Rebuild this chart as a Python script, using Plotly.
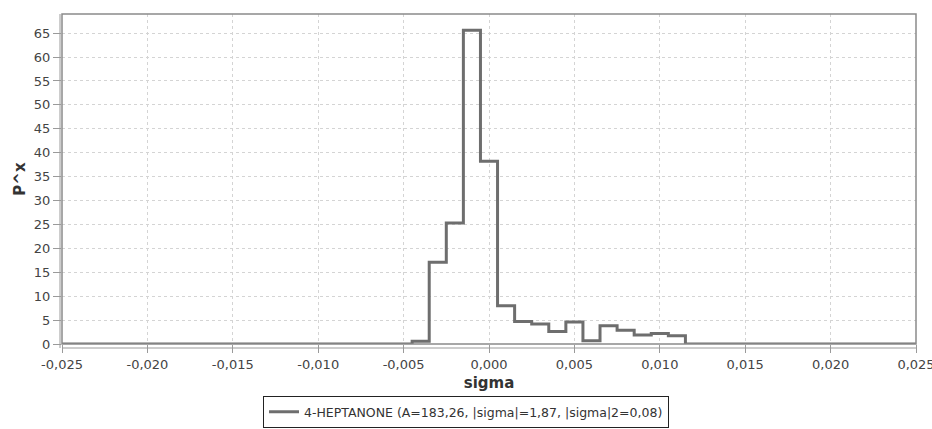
import plotly.graph_objects as go

# Histogram bin left edges (sigma) and heights (P^x), last edge closes the outline
sigma_edges = [-0.025, -0.0045, -0.0035, -0.0025, -0.0015, -0.0005, 0.0005, 0.0015,
               0.0025, 0.0035, 0.0045, 0.0055, 0.0065, 0.0075, 0.0085, 0.0095,
               0.0105, 0.0115, 0.025]
p_values = [0.0, 0.6, 17.1, 25.3, 65.6, 38.2, 8.0, 4.7,
            4.2, 2.6, 4.6, 0.7, 3.8, 2.9, 1.9, 2.2,
            1.7, 0.0, 0.0]

x_ticks = [-0.025, -0.020, -0.015, -0.010, -0.005, 0.000, 0.005, 0.010, 0.015, 0.020, 0.025]
x_tick_labels = ["-0,025", "-0,020", "-0,015", "-0,010", "-0,005", "0,000",
                 "0,005", "0,010", "0,015", "0,020", "0,025"]
y_ticks = [0, 5, 10, 15, 20, 25, 30, 35, 40, 45, 50, 55, 60, 65]

series_name = "4-HEPTANONE (A=183,26, |sigma|=1,87, |sigma|2=0,08)"

FONT = "DejaVu Sans"
GRID = "#d4d4d4"

fig = go.Figure()
fig.add_trace(go.Scatter(
    x=sigma_edges, y=p_values, mode="lines", line_shape="hv",
    line=dict(color="#6e6e6e", width=3), name=series_name, showlegend=True,
))

fig.update_layout(
    width=932, height=429,
    margin=dict(l=62, r=16, t=14, b=85, autoexpand=False),
    paper_bgcolor="white", plot_bgcolor="white",
    separators=",.",
    font=dict(family=FONT, size=13, color="#444444"),
    showlegend=True,
    legend=dict(
        orientation="h", xref="container", yref="container",
        x=0.5, xanchor="center", y=0.002, yanchor="bottom",
        bordercolor="#222222", borderwidth=1, bgcolor="white",
        font=dict(family=FONT, size=12.5, color="#333333"),
        itemwidth=30, tracegroupgap=0,
    ),
    xaxis=dict(
        range=[-0.025, 0.025], tickmode="array", tickvals=x_ticks, ticktext=x_tick_labels,
        ticklabeloverflow="allow",
        showgrid=True, gridcolor=GRID, griddash="3px,3px", gridwidth=1,
        zeroline=False, showline=False, automargin=False,
        ticks="outside", ticklen=8, tickcolor="#9a9a9a",
        tickfont=dict(family=FONT, size=13, color="#444444"),
        title=dict(text="<b>sigma</b>", font=dict(family=FONT, size=15, color="#333333"), standoff=6),
    ),
    yaxis=dict(
        range=[0, 69], tickmode="array", tickvals=y_ticks,
        showgrid=True, gridcolor=GRID, griddash="3px,3px", gridwidth=1,
        zeroline=False, showline=False, automargin=False,
        ticks="outside", ticklen=8, tickcolor="#9a9a9a",
        tickfont=dict(family=FONT, size=13, color="#444444"),
        title=dict(text="<b>P^x</b>", font=dict(family=FONT, size=15, color="#333333"), standoff=4),
    ),
    shapes=[
        # plot frame
        dict(type="rect", xref="paper", yref="paper", x0=0, x1=1, y0=0, y1=1,
             line=dict(color="#8a8a8a", width=1.5), layer="above"),
        # offset x axis line
        dict(type="line", xref="paper", yref="paper", x0=0, x1=1, y0=-4/330, y1=-4/330,
             line=dict(color="#9a9a9a", width=1)),
        # offset y axis line
        dict(type="line", xref="paper", yref="paper", x0=-2/854, x1=-2/854, y0=-4/330, y1=1,
             line=dict(color="#9a9a9a", width=1)),
    ],
)

fig.write_html("out.html", config={"displayModeBar": False},
               post_script="document.body.style.margin='0';")
